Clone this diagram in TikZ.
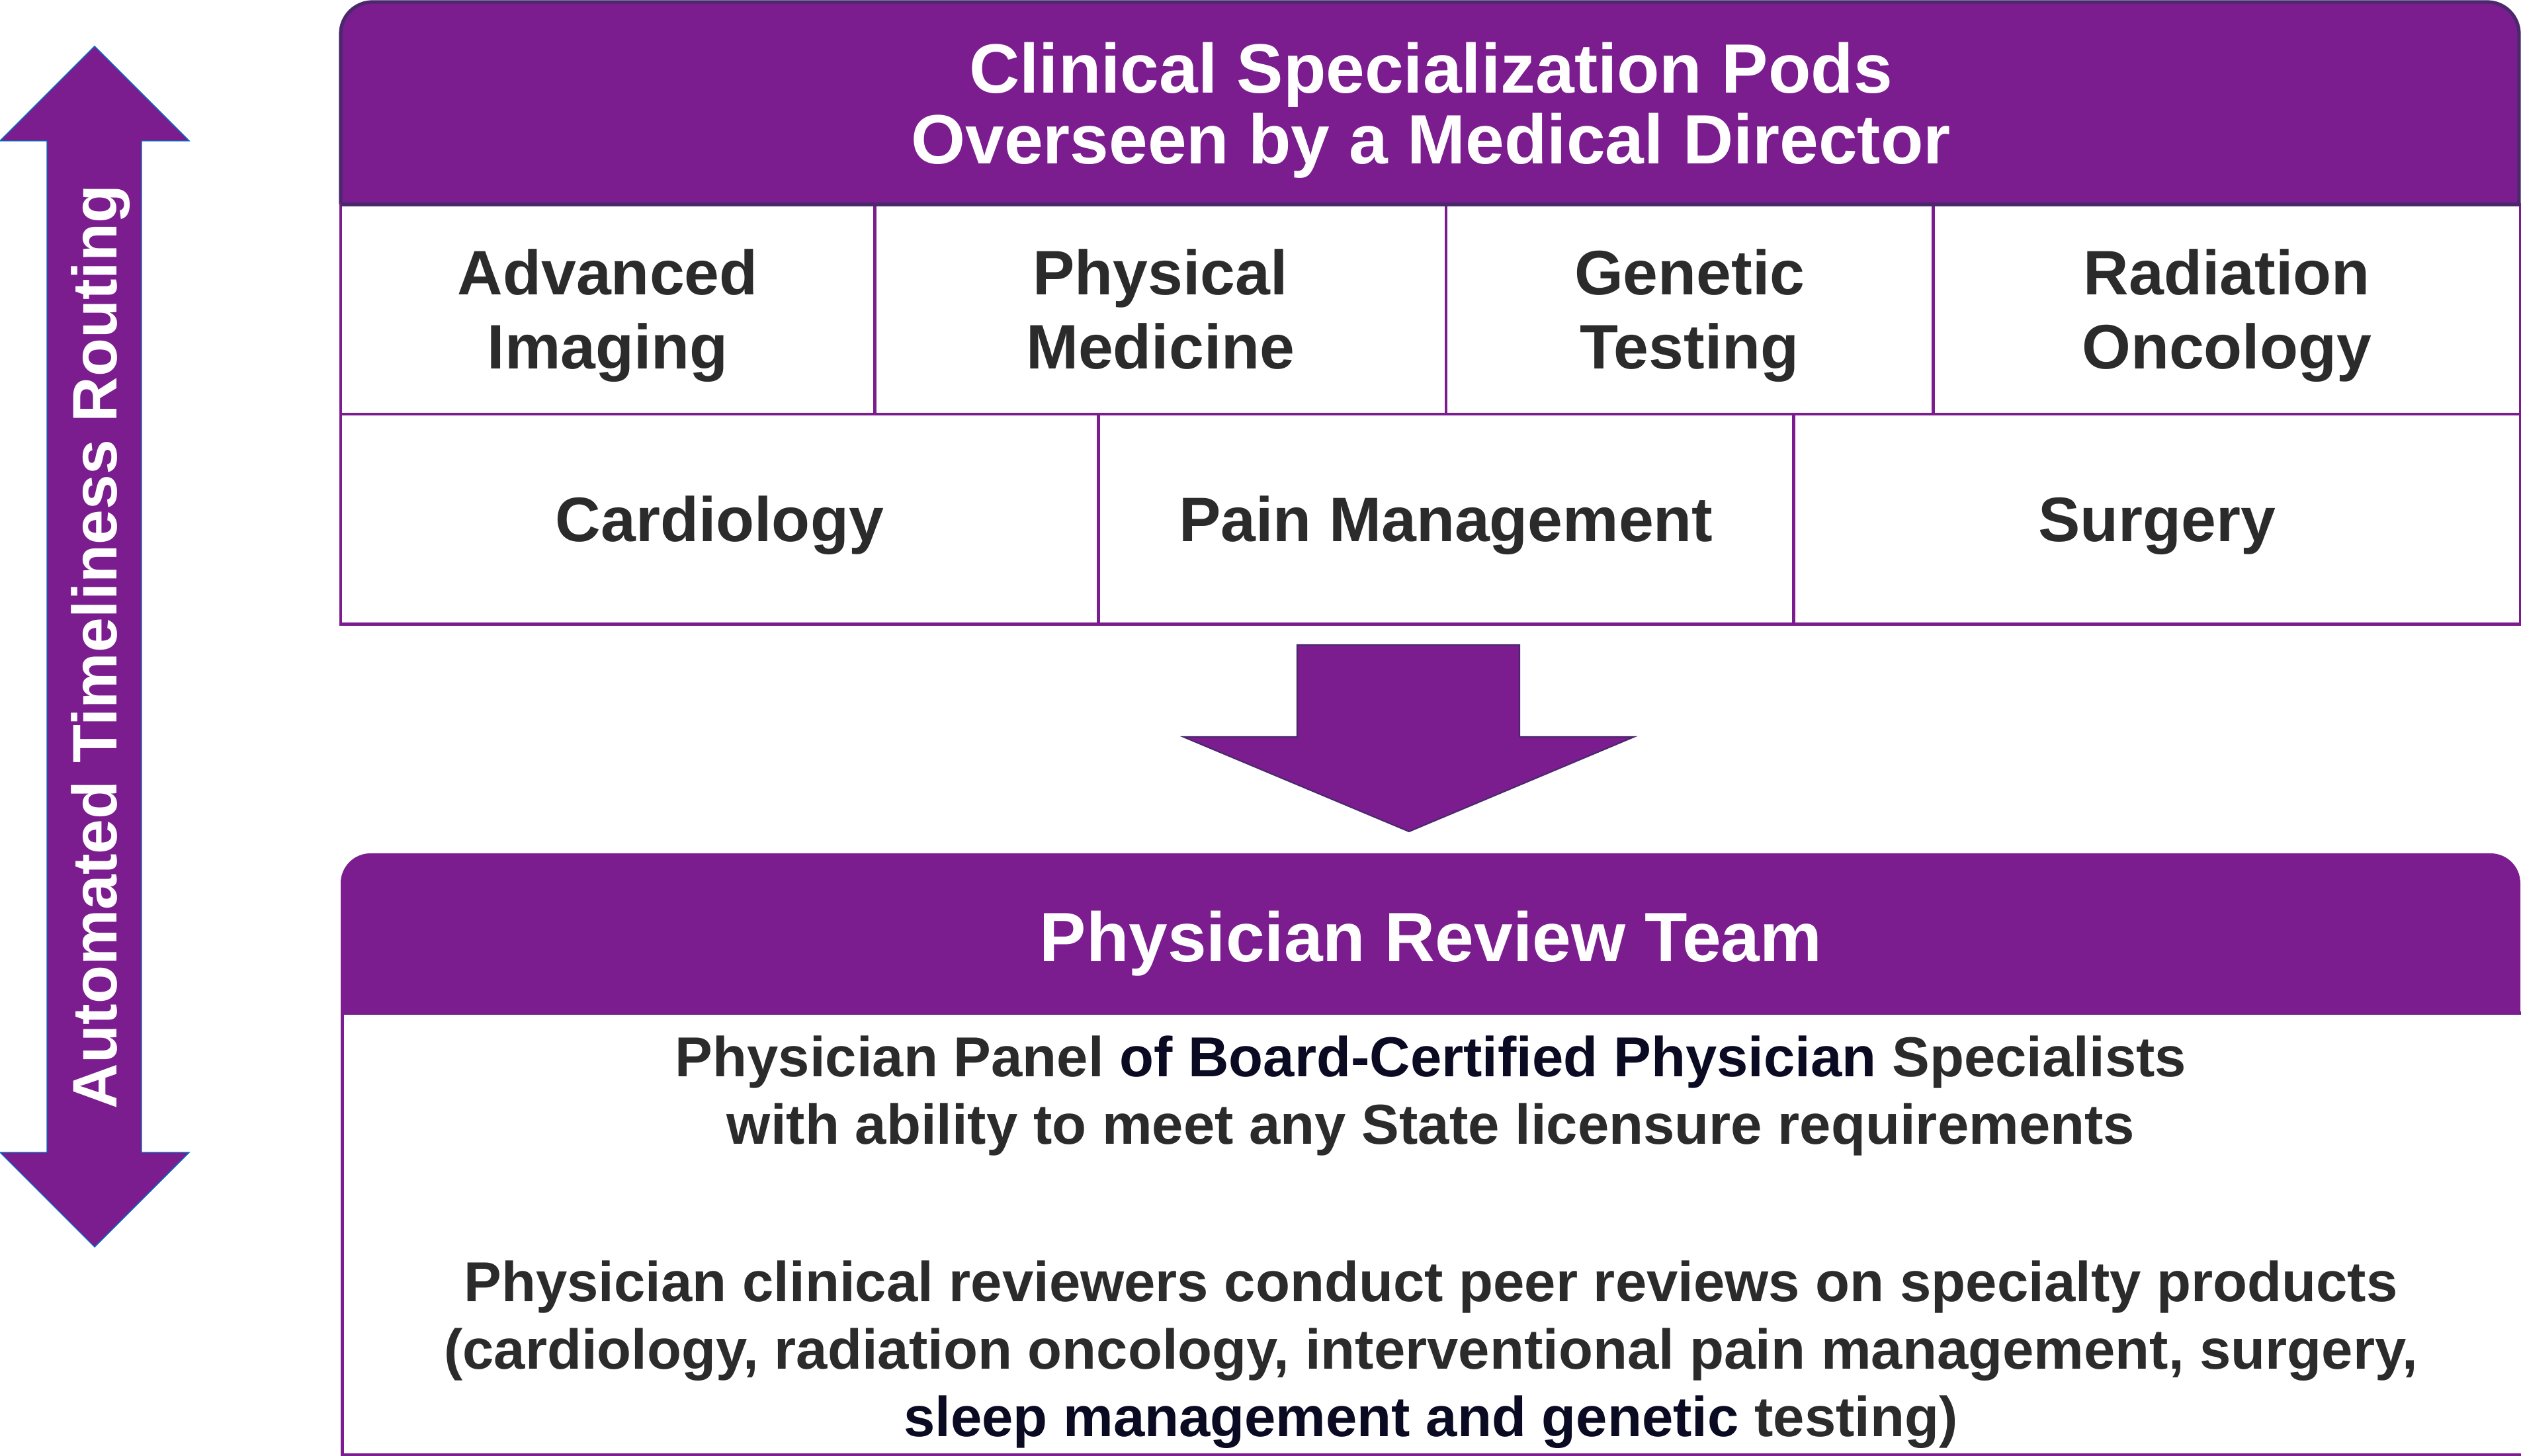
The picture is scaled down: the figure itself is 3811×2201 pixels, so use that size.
\documentclass[tikz,border=0pt]{standalone}
\usepackage{fontspec}
\setmainfont{Liberation Sans}
\usepackage{xcolor}
\usepackage{tikz}
\usetikzlibrary{positioning}

\definecolor{podpurple}{RGB}{123,29,142}
\definecolor{poddark}{RGB}{75,40,110}
\definecolor{podtext}{RGB}{43,43,43}
\definecolor{podnavy}{RGB}{10,10,35}
\definecolor{podblue}{RGB}{0,112,192}
\newcommand{\podstrut}{\rule{0pt}{0.966em}}

\begin{document}
\begin{tikzpicture}[x=0.01cm, y=-0.01cm]
    % Define styles
    \tikzstyle{capmid} = [execute at begin node={\podstrut}, execute at end node={\rule[-0.25em]{0pt}{0.25em}}]
    \tikzstyle{cell} = [rectangle, capmid, draw=podpurple, line width=1.3pt, fill=white, inner sep=0pt, outer sep=0pt, minimum height=3.17cm, align=center, text=podtext, font=\fontsize{27}{32}\selectfont\bfseries]
    \tikzstyle{headtext} = [capmid, text=white, align=center, font=\fontsize{30}{30.5}\selectfont\bfseries]
    \tikzstyle{bodytext} = [capmid, text=podtext, align=center, font=\fontsize{24.2}{29}\selectfont\bfseries]
    \tikzstyle{blockarrow} = [fill=podpurple, draw=poddark, line width=0.6pt, line join=miter]

    \useasboundingbox (0,0) rectangle (3811,2201);

    % Pods header
    \draw[fill=podpurple, draw=poddark, line width=1.5pt, rounded corners=0.48cm] (515,309) -- (515,3) -- (3808,3) -- (3808,309);

    % Place nodes
    \node[cell, minimum width=8.07cm, anchor=north west] (imaging) at (515,309) {\podstrut Advanced\\Imaging};
    \node[cell, minimum width=8.63cm, right=0pt of imaging] (physical) {\podstrut Physical\\Medicine};
    \node[cell, minimum width=7.36cm, right=0pt of physical] (genetic) {\podstrut Genetic\\Testing};
    \node[cell, minimum width=8.87cm, right=0pt of genetic] (radiation) {\podstrut Radiation\\Oncology};
    \node[cell, minimum width=11.45cm, anchor=north west] (cardio) at (imaging.south west) {Cardiology};
    \node[cell, minimum width=10.50cm, right=0pt of cardio] (pain) {Pain Management};
    \node[cell, minimum width=10.98cm, right=0pt of pain] (surgery) {Surgery};
    \draw[poddark, line width=1.5pt] (imaging.north west) -- (radiation.north east);
    \node[headtext] (podstitle) at (2163,156) {\podstrut Clinical Specialization Pods\\Overseen by a Medical Director};

    % Down arrow
    \draw[blockarrow] (1961,975) -- (2297,975) -- (2297,1114) -- (2470,1114) -- (2130,1257) -- (1789,1114) -- (1961,1114) -- cycle;

    % Review team
    \fill[podpurple, rounded corners=0.45cm] (515,1529) -- (515,1290) -- (3810,1290) -- (3810,1529);
    \node[headtext] (reviewtitle) at (2163,1416) {Physician Review Team};
    \node[draw=podpurple, line width=1.3pt, inner sep=0pt, minimum width=32.94cm, minimum height=6.68cm, anchor=north west] (reviewbody) at (515,1529) {};
    \node[bodytext] (panel) at (2163,1648) {\podstrut Physician Panel \textcolor{podnavy}{of Board-Certified Physician} Specialists\\with ability to meet any State licensure requirements};
    \node[bodytext] (reviewers) at (2163,2039) {\podstrut Physician clinical reviewers conduct peer reviews on specialty products\\(cardiology, radiation oncology, interventional pain management, surgery,\\\textcolor{podnavy}{sleep management and genetic} testing)};

    % Routing arrow
    \draw[fill=podpurple, draw=podblue, line width=0.4pt] (143,70) -- (286,213) -- (214,213) -- (214,1742) -- (286,1742) -- (143,1885) -- (0,1742) -- (71,1742) -- (71,213) -- (0,213) -- cycle;
    \node[capmid, rotate=90, text=white, font=\fontsize{27}{32}\selectfont\bfseries] (routing) at (143,978) {Automated Timeliness Routing};
\end{tikzpicture}
\end{document}
